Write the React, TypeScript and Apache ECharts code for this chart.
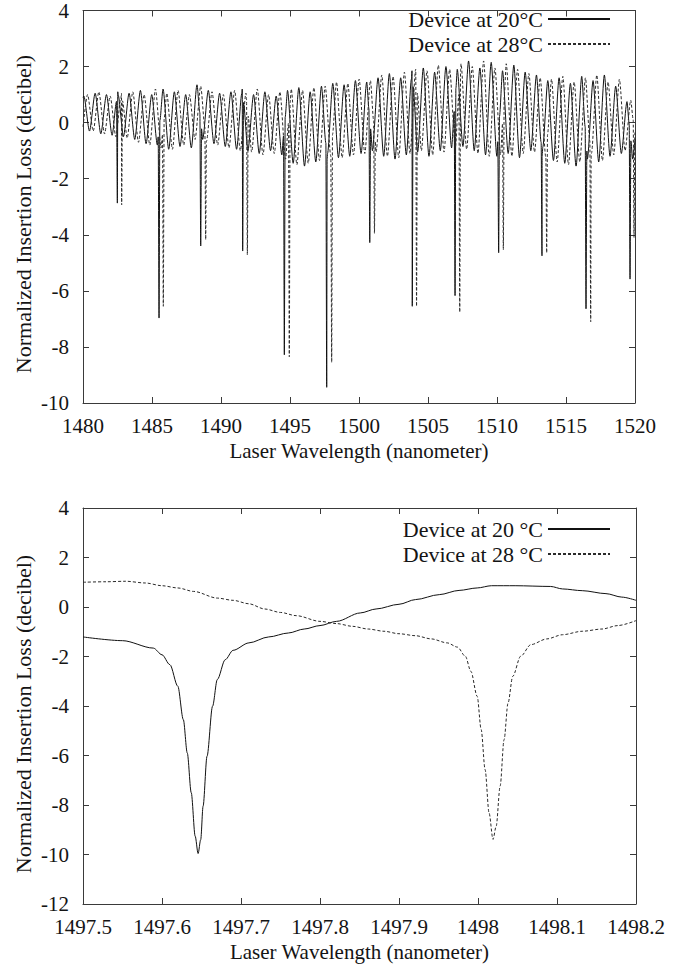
import React, { useEffect, useRef } from "react";
import * as echarts from "echarts";

// ---------- Top chart: 1480–1520 nm sweep ----------
const TOP_X_MIN = 1480;
const TOP_X_MAX = 1520;
const TOP_Y_MIN = -10;
const TOP_Y_MAX = 4;
const FRINGE_PITCH = 0.82;

// Device at 20°C (solid): fringe maxima / minima
const SOLID_EDGES: [number, number][] = [[1480.0, 0.9], [1520.0, -0.6]];
const SOLID_PEAK_START = 1480.06;
const solidPeaks = [
  0.95, 1.05, 1.0, 1.1, 1.05, 1.15, 1.0, 1.2, 1.1, 1.0,
  1.35, 1.15, 1.05, 1.1, 1.2, 1.0, 1.1, 0.95, 1.15, 1.25,
  1.1, 1.3, 1.4, 1.35, 1.5, 1.45, 1.6, 1.75, 1.6, 1.85,
  1.95, 1.8, 2.0, 1.9, 2.2, 1.95, 2.15, 1.85, 2.05, 1.8,
  1.7, 1.5, 1.6, 1.4, 1.65, 1.5, 1.7, 1.3, 0.75,
];
const SOLID_TROUGH_START = 1480.47;
const solidTroughs = [
  -0.3, -0.4, -0.45, -0.5, -0.6, -0.75, -0.8, -0.95, -0.85, -0.9,
  -0.6, -0.75, -0.85, -0.95, -1.0, -1.1, -1.0, -1.15, -1.45, -1.55,
  -1.4, -1.3, -1.25, -1.2, -1.1, -1.0, -1.2, -1.3, -1.15, -1.05,
  -1.2, -1.0, -0.9, -0.85, -1.0, -1.15, -1.2, -1.1, -1.25, -1.0,
  -1.2, -1.35, -1.45, -1.55, -1.3, -1.4, -1.2, -1.1, -1.3,
];
const solidDipAt = [1482.49, 1485.51, 1488.53, 1491.57, 1494.59, 1497.66, 1500.78, 1503.86, 1506.96, 1510.12, 1513.26, 1516.45, 1519.64];
const solidDipDepth = [-2.87, -6.97, -4.4, -4.58, -8.28, -9.44, -4.28, -6.55, -6.17, -4.64, -4.75, -6.64, -5.58];

// Device at 28°C (dashed)
const DASHED_EDGES: [number, number][] = [[1480.0, -0.15], [1520.0, -0.4]];
const DASHED_PEAK_START = 1480.33;
const dashedPeaks = [
  1.0, 1.1, 0.95, 1.05, 1.1, 1.0, 1.2, 1.05, 1.15, 1.0,
  1.3, 1.1, 1.0, 1.15, 1.05, 1.2, 1.0, 1.1, 1.2, 1.15,
  1.25, 1.3, 1.45, 1.4, 1.55, 1.5, 1.7, 1.65, 1.8, 1.9,
  1.85, 2.05, 1.9, 2.1, 2.0, 2.2, 1.95, 2.1, 1.9, 1.75,
  1.6, 1.55, 1.65, 1.45, 1.6, 1.7, 1.45, 1.55, 0.8,
];
const DASHED_TROUGH_START = 1480.74;
const dashedTroughs = [
  -0.3, -0.4, -0.5, -0.55, -0.7, -0.8, -0.9, -0.95, -0.8, -0.6,
  -0.7, -0.8, -0.9, -1.0, -1.05, -1.15, -1.1, -1.3, -1.5, -1.45,
  -1.35, -1.2, -1.25, -1.15, -1.1, -1.05, -1.2, -1.25, -1.1, -1.0,
  -1.15, -1.05, -0.9, -0.95, -1.1, -1.2, -1.15, -1.2, -1.1, -1.05,
  -1.25, -1.4, -1.5, -1.4, -1.3, -1.35, -1.15, -1.0,
];
const dashedDipAt = [1482.8, 1485.82, 1488.89, 1491.91, 1494.95, 1498.02, 1501.12, 1504.17, 1507.3, 1510.46, 1513.6, 1516.79, 1519.93];
const dashedDipDepth = [-2.93, -6.55, -4.17, -4.72, -8.35, -8.55, -3.95, -6.55, -6.76, -4.54, -4.64, -7.1, -4.1];
const DIP_HALF_WIDTH = 0.06;

// ---------- Bottom chart: zoom on 1497.5–1498.2 nm ----------
const BOT_X_MIN = 1497.5;
const BOT_X_MAX = 1498.2;
const BOT_Y_MIN = -12;
const BOT_Y_MAX = 4;

const botSolidX = [
  1497.5, 1497.55, 1497.589, 1497.6, 1497.61, 1497.62, 1497.627, 1497.632, 1497.637, 1497.642,
  1497.6457, 1497.649, 1497.652, 1497.657, 1497.664, 1497.67, 1497.68, 1497.69, 1497.71, 1497.735,
  1497.76, 1497.78, 1497.8, 1497.821, 1497.851, 1497.871, 1497.9, 1497.921, 1497.951, 1497.976,
  1497.999, 1498.017, 1498.047, 1498.092, 1498.107, 1498.132, 1498.162, 1498.182, 1498.2,
];
const botSolidY = [
  -1.21, -1.36, -1.66, -1.93, -2.33, -3.2, -4.55, -5.9, -7.5, -9.26,
  -9.96, -9.4, -8.05, -6.03, -4.01, -2.93, -2.13, -1.75, -1.45, -1.21,
  -1.05, -0.89, -0.75, -0.58, -0.24, -0.08, 0.11, 0.3, 0.5, 0.67,
  0.77, 0.86, 0.86, 0.83, 0.73, 0.66, 0.54, 0.4, 0.27,
];
const botDashedX = [
  1497.5, 1497.529, 1497.554, 1497.579, 1497.6, 1497.62, 1497.64, 1497.67, 1497.69, 1497.71,
  1497.73, 1497.75, 1497.77, 1497.8, 1497.821, 1497.841, 1497.861, 1497.881, 1497.9, 1497.921,
  1497.941, 1497.961, 1497.974, 1497.984, 1497.991, 1497.999, 1498.004, 1498.009, 1498.014, 1498.019,
  1498.023, 1498.028, 1498.033, 1498.038, 1498.044, 1498.054, 1498.067, 1498.087, 1498.107, 1498.132,
  1498.157, 1498.177, 1498.2,
];
const botDashedY = [
  1.0, 1.02, 1.04, 0.97, 0.86, 0.77, 0.63, 0.36, 0.27, 0.13,
  -0.08, -0.22, -0.35, -0.58, -0.67, -0.78, -0.89, -0.98, -1.08, -1.16,
  -1.29, -1.45, -1.62, -1.99, -2.6, -3.61, -4.95, -6.57, -8.32, -9.39,
  -8.86, -7.24, -5.36, -3.88, -2.8, -1.99, -1.52, -1.29, -1.12, -0.98,
  -0.89, -0.75, -0.55,
];

const TOP_NAMES = ["Device at 20°C", "Device at 28°C"];
const BOT_NAMES = ["Device at 20 °C", "Device at 28 °C"];
const X_TITLE = "Laser Wavelength (nanometer)";
const Y_TITLE = "Normalized Insertion Loss (decibel)";

type Pt = [number, number];

function fringe(edges: Pt[], peakStart: number, peaks: number[], troughStart: number, troughs: number[]): Pt[] {
  const pts: Pt[] = [...edges];
  peaks.forEach((v, i) => pts.push([peakStart + i * FRINGE_PITCH, v]));
  troughs.forEach((v, i) => pts.push([troughStart + i * FRINGE_PITCH, v]));
  pts.sort((a, b) => a[0] - b[0]);
  return pts;
}

function withDips(base: Pt[], at: number[], depth: number[]): Pt[] {
  const lineAt = (x: number) => {
    for (let i = 0; i < base.length - 1; i++) {
      const [x0, y0] = base[i];
      const [x1, y1] = base[i + 1];
      if (x >= x0 && x <= x1) return y0 + ((y1 - y0) * (x - x0)) / (x1 - x0);
    }
    return base[base.length - 1][1];
  };
  const out: Pt[] = base.slice();
  at.forEach((x, i) => {
    out.push([x - DIP_HALF_WIDTH, lineAt(x - DIP_HALF_WIDTH)]);
    out.push([x, depth[i]]);
    out.push([x + DIP_HALF_WIDTH, lineAt(x + DIP_HALF_WIDTH)]);
  });
  out.sort((a, b) => a[0] - b[0]);
  return out;
}

const zip = (xs: number[], ys: number[]): Pt[] => xs.map((x, i) => [x, ys[i]]);

const FONT = "'Liberation Serif', 'Times New Roman', Times, serif";
const AXIS_COLOR = "#3a3a3a";
const TEXT_COLOR = "#141414";

function boxAxes(gridIndex: number, xmin: number, xmax: number, xint: number, ymin: number, ymax: number, yint: number, xfmt: (v: number) => string) {
  const line = { show: true, onZero: false, lineStyle: { color: AXIS_COLOR, width: 1 } };
  const tick = { show: true, inside: true, length: 6, lineStyle: { color: AXIS_COLOR, width: 1 } };
  const xAxes = [
    {
      gridIndex, type: "value", position: "bottom", min: xmin, max: xmax, interval: xint,
      axisLine: line, axisTick: tick, splitLine: { show: false },
      axisLabel: { fontFamily: FONT, fontSize: 21, color: TEXT_COLOR, margin: 12, formatter: xfmt },
      name: X_TITLE, nameLocation: "middle", nameGap: 37,
      nameTextStyle: { fontFamily: FONT, fontSize: 21, color: TEXT_COLOR },
    },
    {
      gridIndex, type: "value", position: "top", min: xmin, max: xmax, interval: xint,
      axisLine: line, axisTick: tick, splitLine: { show: false }, axisLabel: { show: false },
    },
  ];
  const yAxes = [
    {
      gridIndex, type: "value", position: "left", min: ymin, max: ymax, interval: yint,
      axisLine: line, axisTick: tick, splitLine: { show: false },
      axisLabel: { fontFamily: FONT, fontSize: 21, color: TEXT_COLOR, margin: 14, formatter: (v: number) => String(v) },
    },
    {
      gridIndex, type: "value", position: "right", min: ymin, max: ymax, interval: yint,
      axisLine: line, axisTick: tick, splitLine: { show: false }, axisLabel: { show: false },
    },
  ];
  return { xAxes, yAxes };
}

export default function App() {
  const ref = useRef<HTMLDivElement>(null);
  useEffect(() => {
    document.body.style.margin = "0";
    if (!ref.current) return;
    const chart = echarts.init(ref.current, undefined, { renderer: "svg" });

    const topSolid = withDips(fringe(SOLID_EDGES, SOLID_PEAK_START, solidPeaks, SOLID_TROUGH_START, solidTroughs), solidDipAt, solidDipDepth);
    const topDashed = withDips(fringe(DASHED_EDGES, DASHED_PEAK_START, dashedPeaks, DASHED_TROUGH_START, dashedTroughs), dashedDipAt, dashedDipDepth);

    const top = boxAxes(0, TOP_X_MIN, TOP_X_MAX, 5, TOP_Y_MIN, TOP_Y_MAX, 2, (v: number) => String(v));
    const bot = boxAxes(1, BOT_X_MIN, BOT_X_MAX, 0.1, BOT_Y_MIN, BOT_Y_MAX, 2, (v: number) => String(parseFloat(v.toFixed(1))));

    const legendBase = {
      orient: "vertical", align: "right", right: 77, itemWidth: 62, itemHeight: 14, itemGap: 3, padding: 0,
      textStyle: { fontFamily: FONT, fontSize: 22, color: TEXT_COLOR },
      itemStyle: { opacity: 0 },
      selectedMode: false,
    };

    const solidStyle = { color: "#111111", width: 1 };
    const dashedStyle = { color: "#2a2a2a", width: 1, type: [3, 2] };

    const yTitle = (y: number) => ({
      type: "text", x: 23, y, rotation: Math.PI / 2, silent: true,
      style: { text: Y_TITLE, fill: TEXT_COLOR, font: `22px ${FONT}`, align: "center", verticalAlign: "middle" },
    });

    chart.setOption({
      animation: false,
      backgroundColor: "#ffffff",
      grid: [
        { left: 83, top: 8, width: 552, height: 395 },
        { left: 83, top: 508, width: 553, height: 396 },
      ],
      xAxis: [...top.xAxes, ...bot.xAxes],
      yAxis: [...top.yAxes, ...bot.yAxes],
      legend: [
        { ...legendBase, top: 8, data: TOP_NAMES },
        { ...legendBase, top: 518, data: BOT_NAMES },
      ],
      graphic: [yTitle(214), yTitle(714)],
      series: [
        { type: "line", name: TOP_NAMES[0], xAxisIndex: 0, yAxisIndex: 0, data: topSolid, symbol: "none", smooth: 0.25, smoothMonotone: "x", lineStyle: solidStyle, itemStyle: { color: "#111111" }, silent: true },
        { type: "line", name: TOP_NAMES[1], xAxisIndex: 0, yAxisIndex: 0, data: topDashed, symbol: "none", smooth: 0.25, smoothMonotone: "x", lineStyle: dashedStyle, itemStyle: { color: "#2a2a2a" }, silent: true },
        { type: "line", name: BOT_NAMES[0], xAxisIndex: 2, yAxisIndex: 2, data: zip(botSolidX, botSolidY), symbol: "none", smooth: 0.3, smoothMonotone: "x", lineStyle: solidStyle, itemStyle: { color: "#111111" }, silent: true },
        { type: "line", name: BOT_NAMES[1], xAxisIndex: 2, yAxisIndex: 2, data: zip(botDashedX, botDashedY), symbol: "none", smooth: 0.3, smoothMonotone: "x", lineStyle: dashedStyle, itemStyle: { color: "#2a2a2a" }, silent: true },
      ],
    });
    return () => chart.dispose();
  }, []);
  return <div ref={ref} style={{ width: 688, height: 970 }} />;
}
